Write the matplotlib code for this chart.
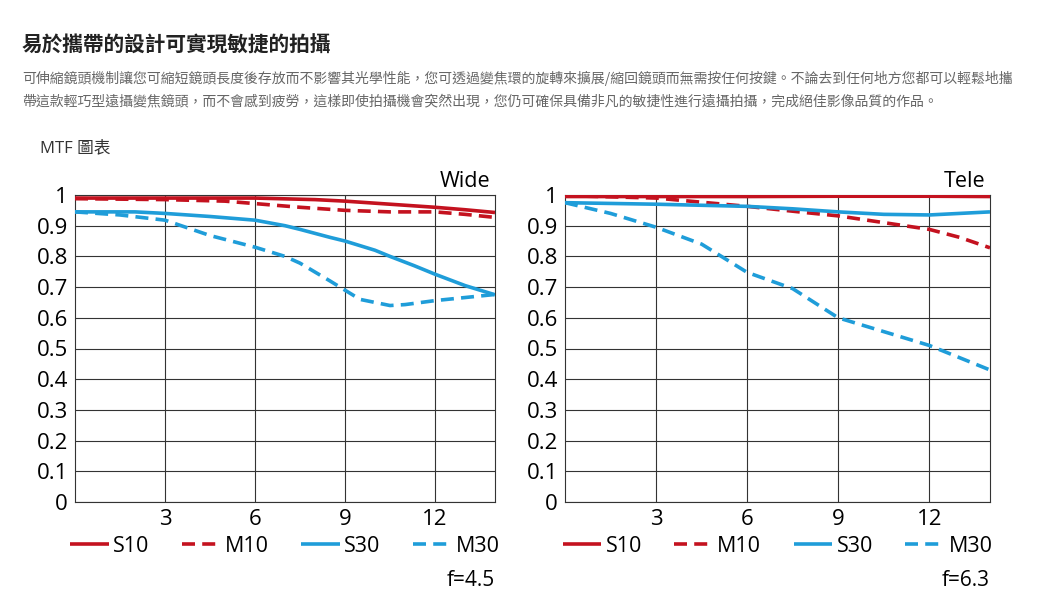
import numpy as np
import matplotlib
matplotlib.use("Agg")
import matplotlib.pyplot as plt

plt.rcParams['font.family'] = ['Open Sans', 'Noto Sans CJK TC', 'DejaVu Sans']

# --- data ---
wide_x_s10 = [0, 3, 6, 8, 9, 10.5, 12, 13, 14]
wide_s10 = [0.99, 0.99, 0.99, 0.985, 0.98, 0.97, 0.96, 0.952, 0.943]
wide_x_m10 = [0, 3, 5, 6, 7.5, 9, 10.5, 12, 13, 14]
wide_m10 = [0.988, 0.985, 0.98, 0.972, 0.96, 0.95, 0.945, 0.945, 0.937, 0.927]
wide_x_s30 = [0, 2, 3, 4.5, 6, 7, 7.5, 8.5, 9, 10, 10.5, 11.3, 12, 13, 14]
wide_s30 = [0.945, 0.945, 0.94, 0.93, 0.918, 0.9, 0.888, 0.862, 0.85, 0.82, 0.8, 0.77, 0.742, 0.705, 0.675]
wide_x_m30 = [0, 1.5, 3, 4.5, 6, 7, 7.5, 8.5, 9, 9.5, 10.5, 11, 12, 13, 14]
wide_m30 = [0.945, 0.935, 0.918, 0.868, 0.83, 0.8, 0.778, 0.72, 0.69, 0.66, 0.64, 0.643, 0.656, 0.666, 0.676]

tele_x_s10 = [0, 3, 6, 9, 12, 14]
tele_s10 = [0.995, 0.995, 0.995, 0.996, 0.996, 0.995]
tele_x_m10 = [0, 3, 6, 8, 9, 10.5, 12, 13, 14]
tele_m10 = [0.998, 0.99, 0.963, 0.942, 0.932, 0.91, 0.888, 0.862, 0.828]
tele_x_s30 = [0, 3, 6, 7.5, 9, 10.5, 12, 13, 14]
tele_s30 = [0.975, 0.97, 0.963, 0.955, 0.945, 0.937, 0.935, 0.94, 0.945]
tele_x_m30 = [0, 1.5, 3, 4.5, 6, 7.5, 9, 10.5, 12, 13, 14]
tele_m30 = [0.975, 0.94, 0.895, 0.84, 0.748, 0.695, 0.6, 0.555, 0.51, 0.47, 0.43]

x_ticks = [3, 6, 9, 12]
y_ticks = [0, 0.1, 0.2, 0.3, 0.4, 0.5, 0.6, 0.7, 0.8, 0.9, 1]
y_tick_labels = ['0', '0.1', '0.2', '0.3', '0.4', '0.5', '0.6', '0.7', '0.8', '0.9', '1']
series_names = ['S10', 'M10', 'S30', 'M30']

red = '#c4121f'
blue = '#1f9dd9'

title = "易於攜帶的設計可實現敏捷的拍攝"
para1 = "可伸縮鏡頭機制讓您可縮短鏡頭長度後存放而不影響其光學性能，您可透過變焦環的旋轉來擴展/縮回鏡頭而無需按任何按鍵。不論去到任何地方您都可以輕鬆地攜"
para2 = "帶這款輕巧型遠攝變焦鏡頭，而不會感到疲勞，這樣即使拍攝機會突然出現，您仍可確保具備非凡的敏捷性進行遠攝拍攝，完成絕佳影像品質的作品。"

fig = plt.figure(figsize=(10.4, 6.12), dpi=100)
cjk = ['Noto Sans CJK TC', 'DejaVu Sans']
fig.text(22/1040, 1 - 45/612, title, fontsize=14.9, fontweight='bold',
         family=cjk, color='#222222', va='center')
fig.text(22/1040, 1 - 78/612, para1, fontsize=10, family=cjk, color='#666666', va='center')
fig.text(22/1040, 1 - 101/612, para2, fontsize=10, family=cjk, color='#666666', va='center')
fig.text(40/1040, 1 - 148/612, "MTF 圖表", fontsize=12, family=['Open Sans', 'Noto Sans CJK TC'],
         color='#333333', va='center')

panels = [
    (75, 420, "Wide", "f=4.5",
     [(wide_x_s10, wide_s10), (wide_x_m10, wide_m10), (wide_x_s30, wide_s30), (wide_x_m30, wide_m30)]),
    (565, 425, "Tele", "f=6.3",
     [(tele_x_s10, tele_s10), (tele_x_m10, tele_m10), (tele_x_s30, tele_s30), (tele_x_m30, tele_m30)]),
]

styles = [(red, '-'), (red, '--'), (blue, '-'), (blue, '--')]

for left, width, name, fnum, series in panels:
    ax = fig.add_axes([left/1040, 1 - 502/612, width/1040, 307/612])
    for (xs, ys), (c, ls), lab in zip(series, styles, series_names):
        line, = ax.plot(xs, ys, color=c, linestyle=ls, lw=2.6, label=lab,
                        solid_capstyle='butt', zorder=3)
        if ls == '--':
            line.set_dashes((3.6, 2.0))
    ax.set_xlim(0, 14)
    ax.set_ylim(0, 1)
    ax.set_xticks(x_ticks)
    ax.set_yticks(y_ticks)
    ax.set_yticklabels(y_tick_labels)
    ax.grid(True, color='#333333', lw=0.8)
    ax.tick_params(length=0, labelsize=16, pad=5)
    for s in ax.spines.values():
        s.set_color('#333333')
        s.set_linewidth(0.8)
    ax.text(0.99, 1.01, name, transform=ax.transAxes, ha='right', va='bottom', fontsize=15.5)
    ax.text(1.0, -0.255, fnum, transform=ax.transAxes, ha='right', va='center', fontsize=15)
    ax.legend(loc='upper center', bbox_to_anchor=(0.5, -0.11), ncol=4, frameon=False,
              fontsize=15.5, handlelength=1.8, handletextpad=0.2, columnspacing=1.5,
              borderaxespad=0, borderpad=0)

fig.savefig("out.png", dpi=100, facecolor='white')
